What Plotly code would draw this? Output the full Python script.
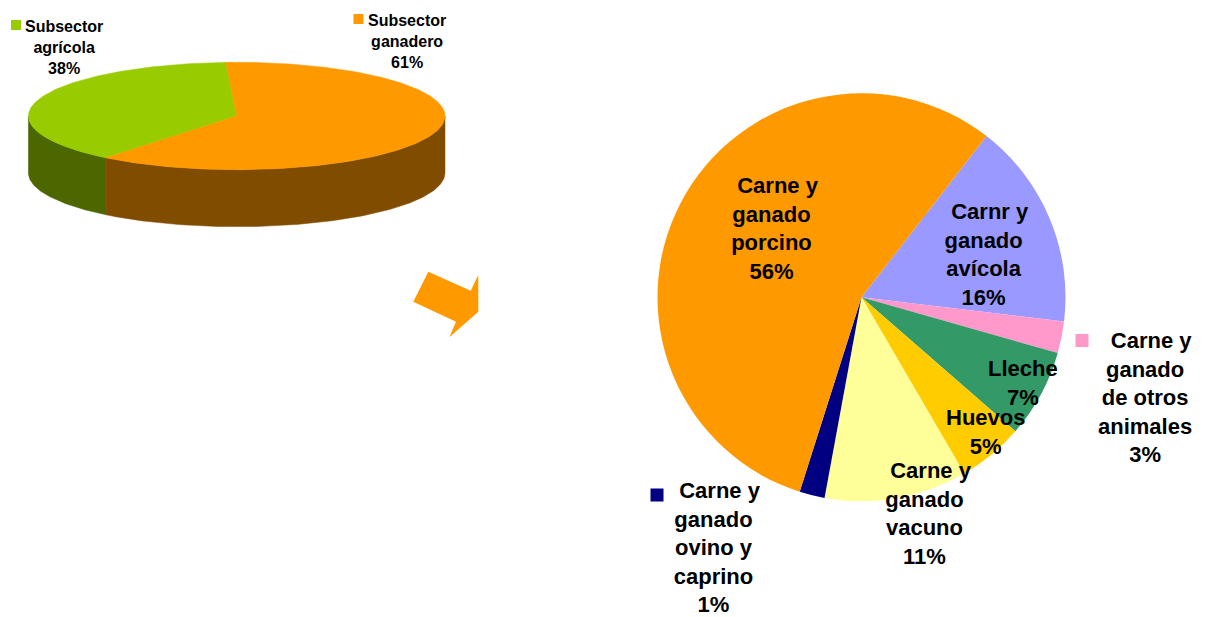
import numpy as np
import plotly.graph_objects as go

# ---------------- data ----------------
sub_labels = ["Subsector agrícola", "Subsector ganadero"]
sub_values = [38, 61]
sub_colors = ["#99CC00", "#FF9900"]
sub_side_colors = ["#4C6600", "#804C00"]

det_labels = [
    "Carnr y ganado avícola",
    "Carne y ganado de otros animales",
    "Lleche",
    "Huevos",
    "Carne y ganado vacuno",
    "Carne y ganado ovino y caprino",
    "Carne y ganado porcino",
]
det_label_lines = [
    ["Carnr y", "ganado", "avícola"],
    ["Carne y", "ganado", "de otros", "animales"],
    ["Lleche"],
    ["Huevos"],
    ["Carne y", "ganado", "vacuno"],
    ["Carne y", "ganado", "ovino y", "caprino"],
    ["Carne y", "ganado", "porcino"],
]
det_values = [16.4, 2.5, 7.0, 5.2, 11.3, 2.0, 55.6]
det_pct_text = ["16%", "3%", "7%", "5%", "11%", "1%", "56%"]
det_colors = ["#9999FF", "#FF99CC", "#339966", "#FFCC00", "#FFFF99", "#000080", "#FF9900"]

# ---------------- layout constants (page pixels) ----------------
W, H = 1209, 617
OFF = 8  # page body margin: figure origin sits at page (8, 8)
FONT = "Liberation Sans, Arial, sans-serif"

fig = go.Figure()

# ---- left: 3D pie drawn on a pixel-coordinate axis ----
cx, cy, rx, ry, depth = 236.7, 116.0, 208.3, 53.7, 57.0
start = 3.0  # degrees counter-clockwise from 12 o'clock


def ell(theta, dy=0.0):
    t = np.radians(theta)
    return cx - rx * np.sin(t), cy - ry * np.cos(t) + dy


tot = sum(sub_values)
angles = []
a = start
for v in sub_values:
    angles.append((a, a + 360.0 * v / tot))
    a += 360.0 * v / tot

# side faces (front half: 90..270 deg, also 450..630 for wrap)
for (a1, a2), col in zip(angles, sub_side_colors):
    for lo, hi in [(90, 270), (450, 630)]:
        b1, b2 = max(a1, lo), min(a2, hi)
        if b2 > b1:
            th = np.linspace(b1, b2, 120)
            xt, yt = ell(th)
            xb, yb = ell(th[::-1], depth)
            xs = np.concatenate([xt, xb, xt[:1]])
            ys = np.concatenate([yt, yb, yt[:1]])
            fig.add_trace(go.Scatter(x=xs, y=ys, mode="lines", fill="toself",
                                     fillcolor=col, line=dict(color=col, width=0.5),
                                     hoverinfo="skip", showlegend=False))

# top faces
for (a1, a2), col, lab in zip(angles, sub_colors, sub_labels):
    th = np.linspace(a1, a2, 240)
    xa, ya = ell(th)
    xs = np.concatenate([[cx], xa, [cx]])
    ys = np.concatenate([[cy], ya, [cy]])
    fig.add_trace(go.Scatter(x=xs, y=ys, mode="lines", fill="toself",
                             fillcolor=col, line=dict(color=col, width=0.5),
                             name=lab, hoverinfo="name", showlegend=False))

# left labels with legend keys
sub_label_pos = [(64, 47), (407, 41)]
sub_key_pos = [(16, 25), (358.5, 19)]
for i, lab in enumerate(sub_labels):
    words = lab.split(" ")
    pct = f"{sub_values[i]}%"
    txt = "<br>".join(["<b>" + w + "</b>" for w in words] + ["<b>" + pct + "</b>"])
    fig.add_annotation(x=sub_label_pos[i][0], y=sub_label_pos[i][1], xref="x", yref="y",
                       text=txt, showarrow=False, align="center",
                       font=dict(family=FONT, size=16, color="black"))
fig.add_trace(go.Scatter(x=[p[0] for p in sub_key_pos], y=[p[1] for p in sub_key_pos],
                         mode="markers", marker=dict(symbol="square", size=10, color=sub_colors),
                         hoverinfo="skip", showlegend=False))

# ---- arrow ----
fig.add_shape(type="path", xref="x", yref="y",
              path="M 428.3 271.7 L 470.7 290.7 L 478.3 275 L 478.3 311.7 "
                   "L 449.3 337.3 L 456 321.7 L 413.3 301.7 Z",
              fillcolor="#FF9900", line=dict(width=0), layer="above")

# ---- right: detail pie ----
pcx, pcy, pr = 861.5, 297.3, 204.0
fig.add_trace(go.Pie(
    labels=det_labels, values=det_values, sort=False, direction="clockwise",
    rotation=37.8, marker=dict(colors=det_colors, line=dict(width=0)),
    textinfo="none", showlegend=False,
    domain=dict(x=[(pcx - pr - OFF) / W, (pcx + pr - OFF) / W],
                y=[1 - (pcy + pr - OFF) / H, 1 - (pcy - pr - OFF) / H]),
))

det_label_pos = [(984, 254.5), (1145, 397), (1023, 383), (985, 432),
                 (925, 513.5), (714, 547), (772, 228)]
det_key_pos = {0: (920.5, 212.5), 1: (1082, 340.5), 3: (919, 419), 5: (657, 495)}
for i in range(len(det_labels)):
    lines = list(det_label_lines[i])
    if lines[0] in ("Carne y", "Carnr y"):
        lines[0] = "\u00a0\u00a0" + lines[0]
    txt = "<br>".join("<b>" + l + "</b>" for l in lines + [det_pct_text[i]])
    fig.add_annotation(x=det_label_pos[i][0], y=det_label_pos[i][1], xref="x", yref="y",
                       text=txt, showarrow=False, align="center",
                       font=dict(family=FONT, size=22, color="black"))
kidx = list(det_key_pos.keys())
fig.add_trace(go.Scatter(x=[det_key_pos[k][0] for k in kidx], y=[det_key_pos[k][1] for k in kidx],
                         mode="markers",
                         marker=dict(symbol="square", size=13, color=[det_colors[k] for k in kidx]),
                         hoverinfo="skip", showlegend=False))

fig.update_layout(
    width=W, height=H, margin=dict(l=0, r=0, t=0, b=0),
    paper_bgcolor="white", plot_bgcolor="rgba(0,0,0,0)",
    xaxis=dict(range=[OFF, W + OFF], visible=False, fixedrange=True),
    yaxis=dict(range=[H + OFF, OFF], visible=False, fixedrange=True),
    showlegend=False,
)

fig.write_html("out.html")
